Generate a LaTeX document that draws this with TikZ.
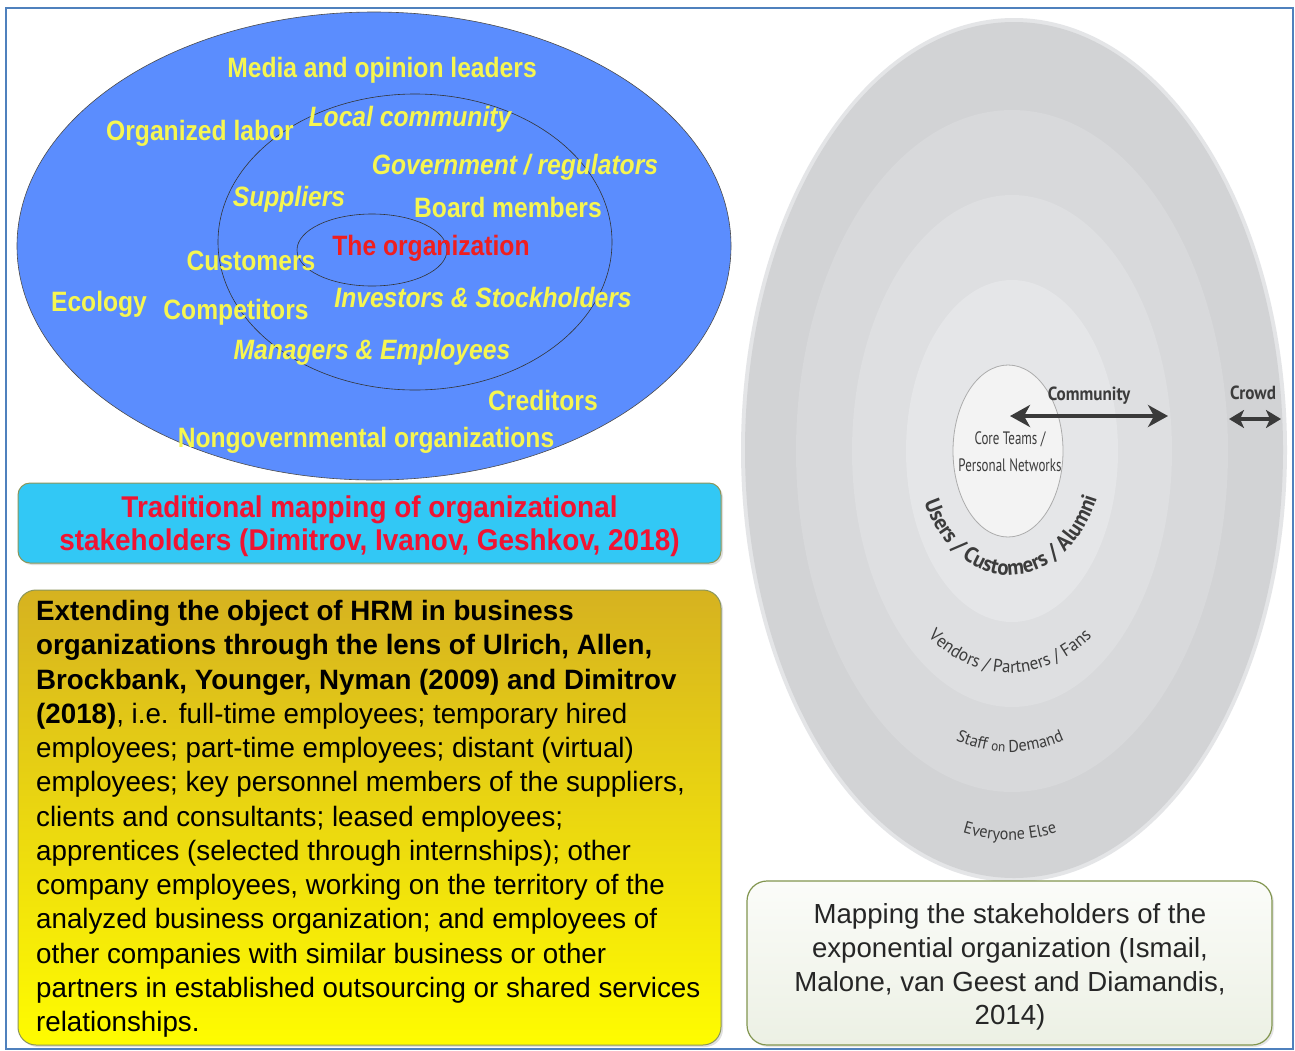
\documentclass[tikz,border=0pt]{standalone}
\usepackage{fontspec}
\setmainfont{Liberation Sans}
\newfontfamily\narrowfont[FakeStretch=0.88]{Liberation Sans}
\newfontfamily\capfont[FakeStretch=0.93]{Liberation Sans}
\newfontfamily\bodyfont[FakeStretch=0.99]{Liberation Sans}
\newfontfamily\ubfont[FakeStretch=0.95]{PT Sans}
\newfontfamily\ubcond[FakeStretch=0.72]{PT Sans}
\newfontfamily\ubmid[FakeStretch=0.9]{PT Sans}
\usetikzlibrary{arrows.meta,shadows,decorations.text}
\definecolor{ellblue}{RGB}{91,141,254}
\definecolor{lblyellow}{RGB}{246,246,80}
\definecolor{orgred}{RGB}{240,30,30}
\definecolor{capred}{RGB}{240,20,50}
\definecolor{capcyan}{RGB}{50,200,245}
\definecolor{olivebd}{RGB}{140,150,90}
\definecolor{ytop}{RGB}{214,178,32}
\definecolor{ybot}{RGB}{255,252,0}
\definecolor{frameblue}{RGB}{79,129,189}
\definecolor{gHalo}{RGB}{228,229,231}
\definecolor{gA}{RGB}{210,211,213}
\definecolor{gB}{RGB}{216,217,219}
\definecolor{gC}{RGB}{222,223,225}
\definecolor{gD}{RGB}{229,230,232}
\definecolor{gE}{RGB}{243,243,243}
\definecolor{rtext}{RGB}{60,60,60}
\definecolor{arrowgray}{RGB}{58,58,58}
\definecolor{boxtop}{RGB}{251,252,249}
\definecolor{boxbot}{RGB}{236,240,228}
\definecolor{boxbd}{RGB}{130,150,80}
\tikzset{
  lbl/.style={inner sep=0pt, text=lblyellow, font=\narrowfont\bfseries\fontsize{28}{30}\selectfont},
  lbli/.style={inner sep=0pt, text=lblyellow, font=\narrowfont\bfseries\itshape\fontsize{28}{30}\selectfont},
  bigarrow/.style={draw=arrowgray, line width=4pt, arrows={Stealth[length=20pt,width=22pt,inset=6pt]-Stealth[length=20pt,width=22pt,inset=6pt]}},
  smallarrow/.style={draw=arrowgray, line width=4pt, arrows={Stealth[length=15pt,width=18pt,inset=4pt]-Stealth[length=15pt,width=18pt,inset=4pt]}},
  rlbl/.style={inner sep=0pt, text=rtext},
  capbox/.style={draw=olivebd, line width=1pt, fill=capcyan, rounded corners=12pt, drop shadow={opacity=0.25, shadow xshift=2pt, shadow yshift=-2pt}},
  ybox/.style={draw=olivebd, line width=1pt, top color=ytop, bottom color=ybot, rounded corners=18pt, drop shadow={opacity=0.25, shadow xshift=2pt, shadow yshift=-2pt}},
  gbox/.style={draw=boxbd, line width=1.2pt, top color=boxtop, bottom color=boxbot, rounded corners=20pt, drop shadow={opacity=0.2, shadow xshift=2pt, shadow yshift=-2pt}}
}
\begin{document}
\begin{tikzpicture}[x=1pt,y=-1pt]
\useasboundingbox (0,0) rectangle (1295,1050);
\fill[white] (0,0) rectangle (1295,1050);

% ---------- right: exponential organization rings ----------
\fill[gHalo] (1014,450) ellipse [x radius=273pt, y radius=432pt];
\fill[gA] (1014,450) ellipse [x radius=269pt, y radius=428pt];
\fill[gB] (1012,451) ellipse [x radius=216pt, y radius=341pt];
\fill[gC] (1012,451) ellipse [x radius=160pt, y radius=256pt];
\fill[gD] (1012,451) ellipse [x radius=106pt, y radius=171pt];
\draw[gray!65, line width=0.8pt, fill=gE] (1008,451) ellipse [x radius=55pt, y radius=86pt];

\node[rlbl, font=\ubcond\fontsize{18}{27}\selectfont, align=center] (core) at (1010,452) {Core Teams /\\Personal Networks};
\node[rlbl, font=\ubmid\bfseries\fontsize{19}{21}\selectfont] (community) at (1089,396) {Community};
\node[rlbl, font=\ubmid\bfseries\fontsize{19}{21}\selectfont] (crowd) at (1253,393) {Crowd};
\coordinate (cl) at (1010,416);
\coordinate (cr) at (1168,416);
\draw[bigarrow] (cl) -- (cr);
\coordinate (wl) at (1229,419);
\coordinate (wr) at (1281,419);
\draw[smallarrow] (wl) -- (wr);

\path[decorate, decoration={text along path, text color=rtext, text align={align=center},
  text={|\ubfont\bfseries\fontsize{22}{22}\selectfont|Users / Customers / Alumni}}]
  (1010,451) ++(192:94pt and 124pt) arc[start angle=192, end angle=350, x radius=94pt, y radius=124pt];
\path[decorate, decoration={text along path, text color=rtext, text align={align=center},
  text={|\ubfont\fontsize{18}{18}\selectfont|Vendors / Partners / Fans}}]
  (1010,451) ++(232:150pt and 222pt) arc[start angle=232, end angle=308, x radius=150pt, y radius=222pt];
\path[decorate, decoration={text along path, text color=rtext, text align={align=center},
  text={|\ubfont\fontsize{17}{17}\selectfont|Staff |\ubfont\fontsize{14}{14}\selectfont|on |\ubfont\fontsize{17}{17}\selectfont|Demand}}]
  (1010,451) ++(250:195pt and 301pt) arc[start angle=250, end angle=290, x radius=195pt, y radius=301pt];
\path[decorate, decoration={text along path, text color=rtext, text align={align=center},
  text={|\ubfont\fontsize{17}{17}\selectfont|Everyone Else}}]
  (1010,451) ++(255:245pt and 389pt) arc[start angle=255, end angle=285, x radius=245pt, y radius=389pt];

% ---------- left: traditional mapping ----------
\draw[fill=ellblue, draw=black!70, line width=0.6pt] (374,246) ellipse [x radius=357pt, y radius=234pt];
\draw[black!80, line width=0.6pt] (415,242) ellipse [x radius=197pt, y radius=148pt];
\draw[black!80, line width=0.6pt] (372,250) ellipse [x radius=75pt, y radius=36pt];

\node[lbl] (media) at (382,70) {Media and opinion leaders};
\node[lbl] (orglabor) at (200,133) {Organized labor};
\node[lbli] (localcomm) at (410,119) {Local community};
\node[lbli] (gov) at (515,167) {Government / regulators};
\node[lbli] (suppliers) at (289,199) {Suppliers};
\node[lbl] (board) at (508,207) {Board members};
\node[lbl, text=orgred] (org) at (431,248) {The organization};
\node[lbl] (customers) at (251,261) {Customers};
\node[lbl] (ecology) at (99,304) {Ecology};
\node[lbl] (competitors) at (236,312) {Competitors};
\node[lbli] (investors) at (483,297) {Investors \& Stockholders};
\node[lbli] (managers) at (372,352) {Managers \& Employees};
\node[lbl] (creditors) at (543,400) {Creditors};
\node[lbl] (ngo) at (366,440) {Nongovernmental organizations};

% ---------- caption boxes ----------
\node[capbox, minimum width=703pt, minimum height=80pt] (capleft) at (369.5,523) {};
\node[inner sep=0pt, text=capred, align=center, font=\capfont\bfseries\fontsize{30}{33}\selectfont] (captext) at (369.5,526) {Traditional mapping of organizational\\stakeholders (Dimitrov, Ivanov, Geshkov, 2018)};

\node[ybox, minimum width=703pt, minimum height=455pt] (hrm) at (369.5,817.5) {};
\node[inner sep=0pt, anchor=north west, align=left, text=black, font=\bodyfont\fontsize{28}{34.25}\selectfont] (hrmtext) at (36,600)
{\textbf{Extending the object of HRM in business}\\
\textbf{organizations through the lens of Ulrich, Allen,}\\
\textbf{Brockbank, Younger, Nyman (2009) and Dimitrov}\\
\textbf{(2018)}, i.e. full-time employees; temporary hired\\
employees; part-time employees; distant (virtual)\\
employees; key personnel members of the suppliers,\\
clients and consultants; leased employees;\\
apprentices (selected through internships); other\\
company employees, working on the territory of the\\
analyzed business organization; and employees of\\
other companies with similar business or other\\
partners in established outsourcing or shared services\\
relationships.};

\node[gbox, minimum width=525pt, minimum height=164pt] (expbox) at (1009.5,963) {};
\node[inner sep=0pt, align=center, text=black!85, font=\fontsize{27.6}{33.7}\selectfont] (exptext) at (1010,967)
{Mapping the stakeholders of the\\exponential organization (Ismail,\\Malone, van Geest and Diamandis,\\2014)};

% ---------- frame ----------
\draw[frameblue, line width=1.5pt] (6,8) rectangle (1293,1049);
\end{tikzpicture}
\end{document}
